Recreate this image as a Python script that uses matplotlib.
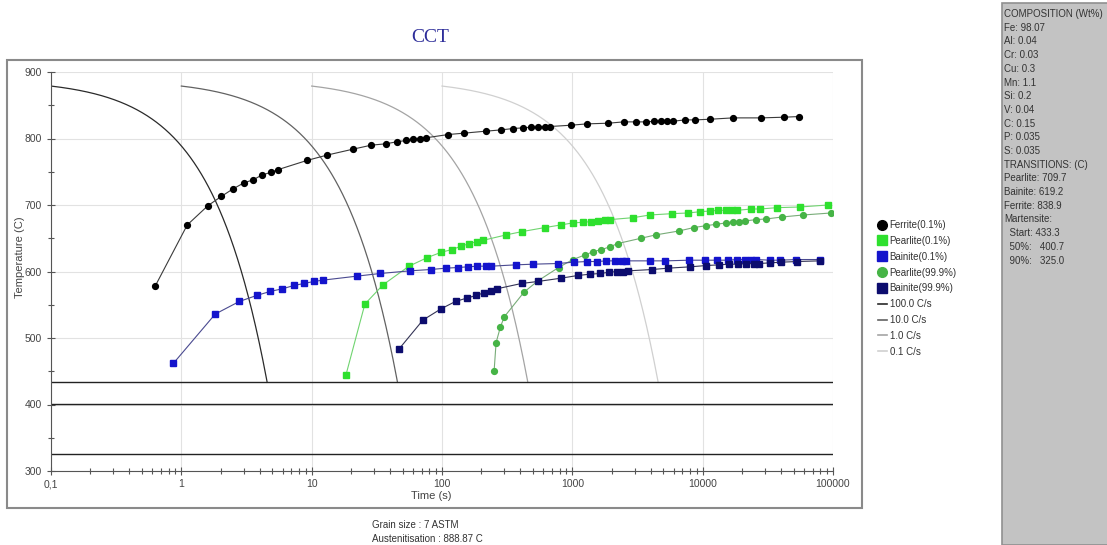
import numpy as np
import matplotlib.pyplot as plt
from matplotlib.lines import Line2D
from matplotlib.patches import Rectangle

plt.rcParams['font.family'] = ['Liberation Sans', 'DejaVu Sans']

# transformation start curves (time in s, temperature in C)
ferrite_t = [0.63, 1.11, 1.60, 2.03, 2.48, 3.0, 3.57, 4.14, 4.85, 5.48,
             9.2, 13.1, 20.8, 28.7, 37.0, 44.9, 52.9, 59.9, 67.7, 74.9,
             112, 147, 216, 286, 351, 418, 481, 545, 613, 669,
             981, 1292, 1892, 2477, 3083, 3675, 4254, 4786, 5321, 5916,
             7345, 8762, 11480, 17030, 28050, 41800, 54700]
ferrite_T = [578, 670, 699, 713, 724, 733, 738, 745, 749, 753,
             767, 775, 784, 790, 792, 795, 797, 799, 800, 801,
             806, 808, 811, 813, 815, 816, 817, 817, 818, 818,
             820, 822, 823, 825, 825, 825, 826, 826, 826, 826,
             828, 828, 829, 831, 831, 832, 833]

pearlite01_t = [18.3, 25.6, 35.3, 55.8, 77.3, 98.9, 119, 140, 162, 186,
                208, 310, 411, 613, 815, 1004, 1198, 1395, 1587, 1773,
                1936, 2939, 3943, 5841, 7745, 9619, 11470, 13210, 15040, 16720,
                18460, 23500, 27690, 37150, 55700, 91200]
pearlite01_T = [444, 551, 580, 608, 621, 629, 633, 638, 642, 645,
                647, 655, 660, 666, 670, 673, 674, 675, 676, 677,
                678, 681, 685, 687, 688, 690, 691, 692, 692, 692,
                692, 694, 694, 696, 697, 700]

bainite01_t = [0.87, 1.82, 2.79, 3.79, 4.80, 5.96, 7.32, 8.73, 10.4, 12.2,
               22.2, 33.5, 56.8, 81.8, 107, 132, 158, 187, 216, 238,
               368, 499, 771, 1022, 1300, 1550, 1827, 2115, 2392, 2584,
               3963, 5164, 7838, 10500, 12970, 15660, 18360, 21140, 23370, 25810,
               33040, 39380, 52190, 78840]
bainite01_T = [462, 536, 555, 564, 570, 574, 579, 582, 585, 587,
               593, 597, 601, 603, 605, 606, 607, 608, 608, 608,
               610, 611, 612, 614, 615, 615, 616, 616, 616, 616,
               616, 616, 617, 617, 617, 617, 618, 618, 618, 618,
               617, 617, 618, 618]

pearlite999_t = [251, 260, 281, 301, 426, 545, 784, 1009, 1256, 1453,
                 1672, 1935, 2229, 3365, 4353, 6608, 8505, 10700, 12690, 15040,
                 17100, 19010, 21020, 25650, 30760, 40800, 59060, 96600]
pearlite999_T = [450, 493, 517, 532, 569, 586, 606, 618, 625, 630,
                 633, 637, 642, 650, 655, 661, 666, 669, 671, 673,
                 675, 675, 676, 678, 679, 682, 685, 688]

bainite999_t = [46.6, 71.4, 98.6, 127, 155, 183, 210, 238, 264, 408,
                544, 822, 1102, 1371, 1643, 1927, 2218, 2465, 2692, 4110,
                5419, 7985, 10690, 13370, 16030, 18790, 21630, 24640, 27060, 32810,
                39880, 52580, 79250]
bainite999_T = [483, 527, 544, 555, 560, 564, 568, 571, 574, 582,
                585, 590, 594, 596, 597, 599, 600, 600, 601, 603,
                605, 607, 609, 610, 611, 611, 612, 612, 612, 613,
                614, 615, 616]

# cooling rates (C/s), austenitisation and martensite temperatures
rates = [100.0, 10.0, 1.0, 0.1]
rate_labels = ['100.0 C/s', '10.0 C/s', '1.0 C/s', '0.1 C/s']
rate_colors = ['#2a2a2a', '#626262', '#a4a4a4', '#d0d0d0']
t_aust = 888.87
ms_start, ms_50, ms_90 = 433.3, 400.7, 325.0

xticks = [0.1, 1, 10, 100, 1000, 10000, 100000]
xticklabels = ['0,1', '1', '10', '100', '1000', '10000', '100000']

comp_lines = ['COMPOSITION (Wt%)', 'Fe: 98.07', 'Al: 0.04', 'Cr: 0.03', 'Cu: 0.3',
              'Mn: 1.1', 'Si: 0.2', 'V: 0.04', 'C: 0.15', 'P: 0.035', 'S: 0.035',
              'TRANSITIONS: (C)', 'Pearlite: 709.7', 'Bainite: 619.2', 'Ferrite: 838.9',
              'Martensite:', '  Start: 433.3', '  50%:   400.7', '  90%:   325.0']

W, H = 1107, 545
fig = plt.figure(figsize=(W / 100, H / 100), dpi=100)

# outer frame round the chart, and the grey composition panel
fig.patches.append(Rectangle((7 / W, 1 - 508 / H), 855 / W, 448 / H, transform=fig.transFigure,
                             fill=False, edgecolor='#8a8a8a', lw=1.5))
fig.patches.append(Rectangle((1002 / W, 0), 110 / W, 1 - 3 / H, transform=fig.transFigure,
                             facecolor='#c3c3c3', edgecolor='#909090', lw=1.2))

ax = fig.add_axes([51 / W, 1 - 471 / H, 782 / W, 399 / H])
ax.set_xscale('log')
ax.set_xlim(0.1, 100000)
ax.set_ylim(300, 900)

# cooling curves from austenitisation down to martensite start
for r, c in zip(rates, rate_colors):
    tt = np.logspace(np.log10(10.0 / r), np.log10((t_aust - ms_start) / r), 300)
    ax.plot(tt, t_aust - r * tt, color=c, lw=0.9, zorder=2)

for m in (ms_start, ms_50, ms_90):
    ax.axhline(m, color='#222222', lw=1.0, zorder=2)

mk = 4.2
ax.plot(ferrite_t, ferrite_T, color='#3a3a3a', lw=0.8, marker='o', ms=mk,
        mfc='black', mec='black', zorder=4)
ax.plot(pearlite01_t, pearlite01_T, color='#70d470', lw=0.8, marker='s', ms=mk,
        mfc='#2ee02e', mec='#2ee02e', zorder=4)
ax.plot(bainite01_t, bainite01_T, color='#4a4a90', lw=0.8, marker='s', ms=mk,
        mfc='#1414cc', mec='#1414cc', zorder=5)
ax.plot(pearlite999_t, pearlite999_T, color='#78ac78', lw=0.8, marker='o', ms=mk,
        mfc='#46b446', mec='#46b446', zorder=4)
ax.plot(bainite999_t, bainite999_T, color='#333355', lw=0.8, marker='s', ms=mk,
        mfc='#0c0c6e', mec='#0c0c6e', zorder=5)

ax.set_xticks(xticks)
ax.set_xticklabels(xticklabels)
ax.set_yticks(range(300, 901, 100))
ax.set_yticks(range(350, 900, 100), minor=True)
ax.grid(True, which='major', color='#e2e2e2', lw=0.8, zorder=0)
ax.set_axisbelow(True)
for s in ('top', 'right'):
    ax.spines[s].set_visible(False)
for s in ('left', 'bottom'):
    ax.spines[s].set_color('#555555')
ax.tick_params(which='both', direction='inout', colors='#555555', labelcolor='#444444',
               labelsize=7.5)
ax.tick_params(which='major', length=6, width=0.8)
ax.tick_params(which='minor', length=4, width=0.8)
ax.tick_params(axis='x', pad=3)

fig.text(431 / W, 1 - 496 / H, 'Time (s)', ha='center', va='center', fontsize=8, color='#444444')
fig.text(20 / W, 1 - 257 / H, 'Temperature (C)', ha='center', va='center', rotation=90,
         fontsize=8, color='#444444')
fig.text(430 / W, 1 - 38 / H, 'CCT', ha='center', va='center', fontsize=14,
         family='Liberation Serif', color='#2e2e9a')

fig.text(372 / W, 1 - 525 / H, 'Grain size : 7 ASTM', ha='left', va='center', fontsize=7,
         color='#333333')
fig.text(372 / W, 1 - 539 / H, 'Austenitisation : 888.87 C', ha='left', va='center', fontsize=7,
         color='#333333')

for i, s in enumerate(comp_lines):
    fig.text(1004 / W, 1 - (14 + i * 13.7) / H, s, ha='left', va='center', fontsize=7,
             color='#333333')

handles = [
    Line2D([], [], ls='none', marker='o', ms=7, color='black'),
    Line2D([], [], ls='none', marker='s', ms=7, color='#2ee02e'),
    Line2D([], [], ls='none', marker='s', ms=7, color='#1414cc'),
    Line2D([], [], ls='none', marker='o', ms=7, color='#46b446'),
    Line2D([], [], ls='none', marker='s', ms=7, color='#0c0c6e'),
]
labels = ['Ferrite(0.1%)', 'Pearlite(0.1%)', 'Bainite(0.1%)', 'Pearlite(99.9%)', 'Bainite(99.9%)']
for lab, c in zip(rate_labels, rate_colors):
    handles.append(Line2D([], [], color=c, lw=1.2))
    labels.append(lab)

fig.legend(handles, labels, loc='upper left', bbox_to_anchor=(878 / W, 1 - 220 / H),
           frameon=False, fontsize=7, handlelength=0.9, handletextpad=0.3,
           labelspacing=0.6, borderpad=0, borderaxespad=0, labelcolor='#333333')

fig.savefig('out.png', dpi=100)
